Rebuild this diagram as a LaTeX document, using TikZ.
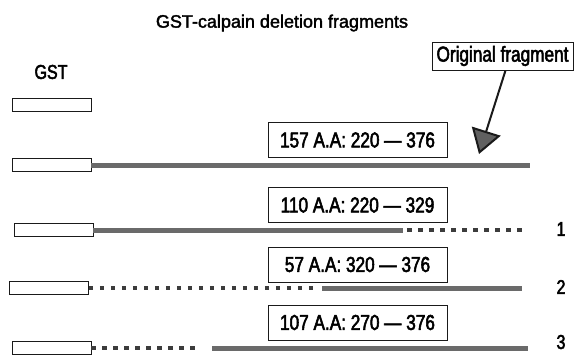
\documentclass[tikz,border=0pt]{standalone}
\usepackage{fontspec}
\setmainfont{Liberation Sans}[FakeBold=2]
\newfontfamily\narrowsans[FakeStretch=0.8, FakeBold=2.5]{Liberation Sans}
\usetikzlibrary{arrows.meta, positioning}
\definecolor{ink}{HTML}{1A1A1A}
\definecolor{bar}{HTML}{6A6A6A}
\definecolor{headfill}{HTML}{606060}

\begin{document}
\begin{tikzpicture}[
  x=1pt, y=-1pt,
  gst/.style={draw=ink, line width=0.9pt, minimum width=79pt, minimum height=13pt, inner sep=0pt},
  tag/.style={draw=ink, line width=0.9pt, fill=white, inner sep=0pt,
              minimum width=179pt, minimum height=35pt,
              font=\narrowsans\fontsize{21.5}{24}\selectfont},
  solidbar/.style={draw=bar, line width=5pt},
  dotbar/.style={draw=ink!85, line width=4.5pt, dash pattern=on 4.5pt off 6.5pt},
  rowno/.style={font=\narrowsans\fontsize{20}{24}\selectfont},
  ptr/.style={-{Triangle[length=24pt, width=30pt, fill=headfill]}, line width=2pt, draw=ink}
]
\useasboundingbox (0,0) rectangle (577,354);

% headings
\node[font=\fontsize{18}{22}\selectfont] (title) at (282,23) {GST-calpain deletion fragments};
\node[font=\narrowsans\fontsize{20}{24}\selectfont] (gstlab) at (51,72) {GST};
\node[tag, minimum width=141pt, minimum height=28pt] (ofrag) at (502.5,56) {Original fragment};

% GST boxes
\node[gst] (gst0) at (51.5,105) {};
\node[gst] (gst1) at (51.5,165) {};
\node[gst] (gst2) at (53.5,230) {};
\node[gst] (gst3) at (49,288) {};
\node[gst] (gst4) at (51.5,348) {};

% fragment ends
\coordinate (e1) at (530,165);
\coordinate (m2) at (403,230);
\coordinate (d2) at (407,230);
\coordinate (e2) at (527,230);
\coordinate (m3) at (317,288);
\coordinate (d3) at (322,288);
\coordinate (e3) at (522,288);
\coordinate (m4) at (201,348);
\coordinate (d4) at (212,348);
\coordinate (e4) at (528,348);

% fragments
\draw[solidbar] (gst1.east) -- (e1);
\draw[solidbar] (gst2.east) -- (m2);
\draw[dotbar] (d2) -- (e2);
\draw[dotbar] (gst3.east) -- (m3);
\draw[solidbar] (d3) -- (e3);
\draw[dotbar] (gst4.east) -- (m4);
\draw[solidbar] (d4) -- (e4);

% amino acid spans
\node[tag] (aa1) at (357.5,140) {157 A.A: 220 — 376};
\node[tag] (aa2) at (357.5,205) {110 A.A: 220 — 329};
\node[tag] (aa3) at (357.5,264.5) {57 A.A: 320 — 376};
\node[tag] (aa4) at (357.5,322.5) {107 A.A: 270 — 376};

% row numbers
\node[rowno] (n1) at (561,229) {1};
\node[rowno] (n2) at (561,287) {2};
\node[rowno] (n3) at (561,342) {3};

% pointer
\coordinate (tip) at (479,154);
\draw[ptr] ([xshift=3pt]ofrag.south) -- (tip);

\end{tikzpicture}
\end{document}
